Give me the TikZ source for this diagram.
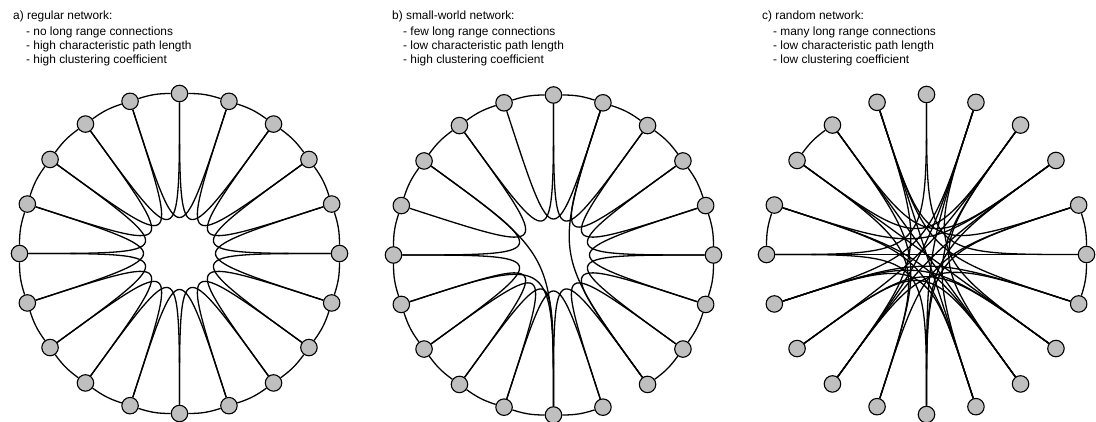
\documentclass[tikz,border=0pt]{standalone}
\usepackage{fontspec}
\setmainfont{Liberation Sans}
\pgfdeclarelayer{edges}
\pgfsetlayers{edges,main}
\begin{document}
\begin{tikzpicture}[x=1pt,y=1pt,
  vertex/.style={circle,draw=black,line width=1.1pt,fill=black!25,minimum size=16.5pt,inner sep=0pt},
  link/.style={line width=1.3pt,draw=black},
  caption/.style={anchor=base west,inner sep=0pt,font=\fontsize{11.9}{14}\selectfont}]
\useasboundingbox (0,0) rectangle (1096,421);

% three rings of 20 vertices, vertex k at angle 90-18k (clockwise from the top)
\foreach \p/\cx/\cy in {a/179.5/167.5, b/553.5/166, c/926.5/166.5}{
  \coordinate (\p c) at (\cx,\cy);
  \foreach \k in {0,...,19}
    \node[vertex] (\p\k) at ({\cx+160*cos(90-18*\k)},{\cy+160*sin(90-18*\k)}) {};
}

\begin{pgfonlayer}{edges}
% a) regular lattice: neighbours on the rim, second neighbours through the middle
\foreach \k in {0,...,19}{
  \pgfmathtruncatemacro{\n}{mod(\k+1,20)}
  \pgfmathtruncatemacro{\m}{mod(\k+2,20)}
  \draw[link] (a\k) to[bend left=9] (a\n);
  \draw[link] (a\k) .. controls (ac) and (ac) .. (a\m);
}
% b) small world: lattice with a few rewired links
\foreach \i/\j in {0/1,1/2,2/3,3/4,4/5,5/6,6/7,7/8,9/10,10/11,11/12,12/13,13/14,14/15,15/16,16/17,17/18,18/19,19/0}
  \draw[link] (b\i) to[bend left=9] (b\j);
\foreach \i/\j in {0/2,1/3,2/4,3/5,4/6,5/7,6/8,7/9,8/10,9/11,10/12,11/13,12/14,13/15,15/17,16/18,18/0,19/1,
                   14/10,17/10,1/8}
  \draw[link] (b\i) .. controls (bc) and (bc) .. (b\j);
% c) random graph
\foreach \i/\j in {17/18,15/16,4/5,5/6}
  \draw[link] (c\i) to[bend left=9] (c\j);
\foreach \i/\j in {0/5,0/15,1/7,1/12,1/14,1/10,2/9,2/13,2/17,2/8,3/10,3/16,3/18,3/12,
                   4/10,4/11,4/19,5/15,6/12,6/19,6/14,7/17,7/13,7/14,8/16,8/13,8/18,
                   9/19,9/16,9/14,10/15,11/18,11/17,12/19}
  \draw[link] (c\i) .. controls (cc) and (cc) .. (c\j);
\end{pgfonlayer}

% captions
\node[caption] (ta0) at (13,401) {a) regular network:};
\node[caption] (ta1) at (26,385) {- no long range connections};
\node[caption] (ta2) at (26,371) {- high characteristic path length};
\node[caption] (ta3) at (26,357) {- high clustering coefficient};
\node[caption] (tb0) at (392,401) {b) small-world network:};
\node[caption] (tb1) at (403,385) {- few long range connections};
\node[caption] (tb2) at (403,371) {- low characteristic path length};
\node[caption] (tb3) at (403,357) {- high clustering coefficient};
\node[caption] (tc0) at (762,401) {c) random network:};
\node[caption] (tc1) at (773,385) {- many long range connections};
\node[caption] (tc2) at (773,371) {- low characteristic path length};
\node[caption] (tc3) at (773,357) {- low clustering coefficient};
\end{tikzpicture}
\end{document}
